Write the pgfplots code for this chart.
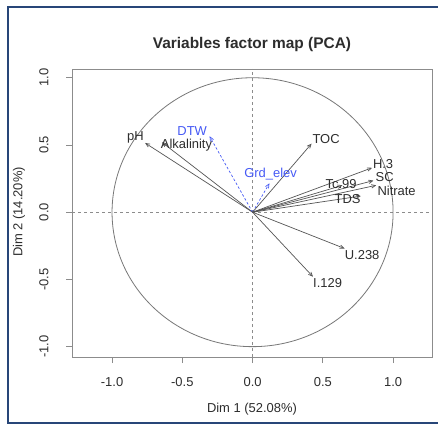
\documentclass[border=0pt]{standalone}
\usepackage{fontspec}
\setmainfont{Liberation Sans}
\usepackage{pgfplots}
\pgfplotsset{compat=1.18}
\usetikzlibrary{arrows.meta}
\definecolor{framec}{RGB}{40,70,120}
\definecolor{vecc}{RGB}{85,85,85}
\definecolor{bluec}{RGB}{70,90,245}
\definecolor{boxc}{RGB}{140,140,140}
\definecolor{circc}{RGB}{120,120,120}
\definecolor{labc}{RGB}{45,45,45}
\tikzset{
  vec/.style={vecc, line width=0.7bp, -{Straight Barb[length=4bp,width=3.5bp]}},
  bvec/.style={bluec, line width=0.7bp, dash pattern=on 2.5bp off 2bp, -{Straight Barb[length=4bp,width=3.5bp]}},
  lab/.style={font=\fontsize{13}{15}\selectfont, text=labc, inner sep=0pt},
  blab/.style={font=\fontsize{13}{15}\selectfont, text=bluec, inner sep=0pt},
}
\begin{document}
\begin{tikzpicture}[x=1bp,y=1bp]
\useasboundingbox (0,0) rectangle (438,425);
\fill[white] (0,0) rectangle (438,425);
\draw[framec, line width=2bp] (440,418) -- (8,418) -- (8,2) -- (440,2);
\node[font=\bfseries\fontsize{15.5}{18}\selectfont, text=labc] at (252,380) {Variables factor map (PCA)};
\node[font=\fontsize{13}{15}\selectfont, text=labc] at (252,16) {Dim 1 (52.08\%)};
\node[rotate=90, font=\fontsize{13}{15}\selectfont, text=labc] at (19,213) {Dim 2 (14.20\%)};
\begin{axis}[at={(72bp,68bp)}, anchor=south west, scale only axis,
  width=360bp, height=288bp,
  xmin=-1.285, xmax=1.277, ymin=-1.077, ymax=1.065,
  axis line style={boxc, line width=0.8bp},
  xtick={-1,-0.5,0,0.5,1}, xticklabels={-1.0,-0.5,0.0,0.5,1.0},
  ytick={-1,-0.5,0,0.5,1}, yticklabels={-1.0,-0.5,0.0,0.5,1.0},
  tick align=outside, major tick length=6bp, xtick pos=bottom, ytick pos=left,
  tick style={boxc, line width=0.8bp},
  tick label style={font=\fontsize{13}{15}\selectfont, text=labc},
  xticklabel style={yshift=-11bp},
  yticklabel style={xshift=-14bp, rotate=90, anchor=south},
  clip=false,
]
\addplot[boxc, line width=0.7bp, dash pattern=on 3bp off 3bp] coordinates {(-1.285,0) (1.277,0)};
\addplot[boxc, line width=0.7bp, dash pattern=on 3bp off 3bp] coordinates {(0,-1.077) (0,1.065)};
\draw[circc, line width=0.8bp] (axis cs:0,0) ellipse [x radius=1, y radius=1];
% variable vectors
\addplot[vec] coordinates {(0,0) (-0.765,0.515)};  % pH
\addplot[vec] coordinates {(0,0) (-0.645,0.52)};   % Alkalinity
\addplot[bvec] coordinates {(0,0) (-0.306,0.565)}; % DTW
\addplot[bvec] coordinates {(0,0) (0.12,0.215)};   % Grd_elev
\addplot[vec] coordinates {(0,0) (0.42,0.51)};     % TOC
\addplot[vec] coordinates {(0,0) (0.85,0.33)};     % H.3
\addplot[vec] coordinates {(0,0) (0.86,0.235)};    % SC
\addplot[vec] coordinates {(0,0) (0.88,0.20)};     % Nitrate
\addplot[vec] coordinates {(0,0) (0.64,0.20)};     % Tc.99
\addplot[vec] coordinates {(0,0) (0.77,0.12)};     % TDS
\addplot[vec] coordinates {(0,0) (0.655,-0.27)};   % U.238
\addplot[vec] coordinates {(0,0) (0.43,-0.48)};    % I.129
% labels
\node[lab] at (axis cs:-0.833,0.56) {pH};
\node[lab] at (axis cs:-0.47,0.50) {Alkalinity};
\node[blab] at (axis cs:-0.43,0.604) {DTW};
\node[blab] at (axis cs:0.128,0.285) {Grd\_elev};
\node[lab] at (axis cs:0.523,0.545) {TOC};
\node[lab] at (axis cs:0.929,0.358) {H.3};
\node[lab] at (axis cs:0.94,0.262) {SC};
\node[lab] at (axis cs:1.025,0.158) {Nitrate};
\node[lab] at (axis cs:0.63,0.21) {Tc.99};
\node[lab] at (axis cs:0.676,0.098) {TDS};
\node[lab] at (axis cs:0.78,-0.318) {U.238};
\node[lab] at (axis cs:0.534,-0.527) {I.129};
\end{axis}
\end{tikzpicture}
\end{document}
